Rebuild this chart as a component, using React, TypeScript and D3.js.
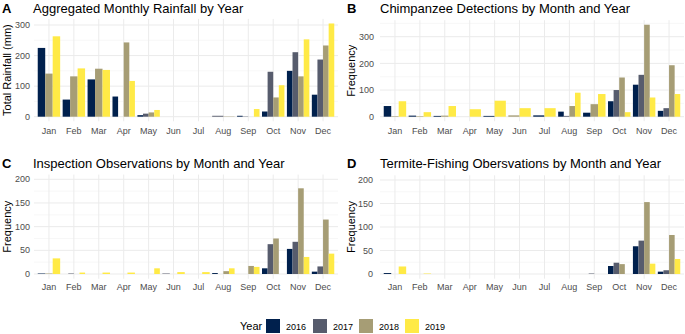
import React from "react";
import * as d3 from "d3";

const months = ["Jan", "Feb", "Mar", "Apr", "May", "Jun", "Jul", "Aug", "Sep", "Oct", "Nov", "Dec"];
const years = ["2016", "2017", "2018", "2019"];
const yearColors = ["#00204D", "#575C6D", "#A69D75", "#FFEA46"];

type V = number | null;

// Panel A: rainfall (mm)
const rain2016: V[] = [225, 56, 122, 66, 5, null, null, null, 3, 17, 150, 72];
const rain2017: V[] = [null, null, null, 0, 10, null, null, 3, 1, 147, 211, 187];
const rain2018: V[] = [141, 132, 157, 243, 14, null, null, 1, 0, 63, 132, 233];
const rain2019: V[] = [263, 158, 153, 117, 22, null, null, null, 25, 103, 253, 305];

// Panel B: chimpanzee detections
const chimp2016: V[] = [40, 4, 3, null, 3, null, 5, 19, 15, 58, 120, 22];
const chimp2017: V[] = [null, null, null, null, null, null, null, 3, null, 100, 157, 32];
const chimp2018: V[] = [2, 2, 4, 0, null, 5, null, 40, 47, 147, 345, 193];
const chimp2019: V[] = [58, 17, 40, 28, 60, 32, 32, 90, 85, 17, 72, 85];

// Panel C: inspection observations
const insp2016: V[] = [1, 0, 0, 0, 0, null, 0, 2, 0, 12, 53, 5];
const insp2017: V[] = [null, 1, null, null, 0, 1, null, 0, 0, 63, 68, 16];
const insp2018: V[] = [1, 0, 0, 0, 0, 0, 0, 6, 17, 75, 181, 115];
const insp2019: V[] = [33, 3, 3, 3, 12, 4, 4, 12, 15, 0, 36, 43];

// Panel D: termite-fishing observations
const term2016: V[] = [2, 0, null, null, null, null, null, null, 0, 17, 59, 5];
const term2017: V[] = [null, null, null, null, null, null, null, null, 1, 24, 71, 8];
const term2018: V[] = [0, 0, null, null, null, null, null, null, 0, 21, 153, 83];
const term2019: V[] = [16, 1, null, null, null, null, null, null, 0, 0, 22, 32];

const yTicksA = [0, 100, 200, 300];
const yTicksB = [0, 100, 200, 300];
const yTicksCD = [0, 50, 100, 150, 200];

const FONT = "Liberation Sans, Arial, sans-serif";

type PanelProps = {
  letter: string;
  title: string;
  yTitle: string;
  series: V[][];
  ticks: number[];
  xRange: [number, number];
  yDomainMax: number;
  yZero: number;
  yTopTick: number;
  extent: [number, number];
  titleY: number;
  labelX: number;
  titleX: number;
  yTitleX: number;
  tickLabelX: number;
  xLabelY: number;
};

function Panel(p: PanelProps) {
  const x = d3.scalePoint<string>().domain(months).range(p.xRange).padding(0.6);
  const step = x.step();
  const y = d3.scaleLinear().domain([0, p.yDomainMax]).range([p.yZero, p.yTopTick]);
  const top = y(p.extent[1]);
  const bottom = y(p.extent[0]);
  const left = p.xRange[0];
  const right = p.xRange[1];
  const minor: number[] = [];
  for (let i = 0; i < p.ticks.length - 1; i++) minor.push((p.ticks[i] + p.ticks[i + 1]) / 2);
  const lastStep = p.ticks[1] - p.ticks[0];
  const extra = p.ticks[p.ticks.length - 1] + lastStep / 2;
  if (extra <= p.extent[1]) minor.push(extra);
  const groupW = step * 0.9;

  const bars: JSX.Element[] = [];
  months.forEach((m, mi) => {
    const present = years
      .map((yr, yi) => ({ yi, v: p.series[yi][mi] }))
      .filter((d) => d.v !== null) as { yi: number; v: number }[];
    const n = present.length;
    if (!n) return;
    const w = groupW / n;
    const x0 = (x(m) as number) - groupW / 2;
    present.forEach((d, i) => {
      const yv = y(d.v);
      bars.push(
        <rect
          key={m + d.yi}
          x={x0 + i * w}
          y={Math.min(yv, y(0))}
          width={w}
          height={Math.abs(y(0) - yv)}
          fill={yearColors[d.yi]}
        />
      );
    });
  });

  const ymid = (top + bottom) / 2;
  return (
    <g fontFamily={FONT}>
      {minor.map((t) => (
        <line key={"mn" + t} x1={left} x2={right} y1={y(t)} y2={y(t)} stroke="#F2F2F2" strokeWidth={0.6} />
      ))}
      {p.ticks.map((t) => (
        <line key={"mj" + t} x1={left} x2={right} y1={y(t)} y2={y(t)} stroke="#EBEBEB" strokeWidth={1} />
      ))}
      {months.map((m) => (
        <line key={"v" + m} x1={x(m)} x2={x(m)} y1={top} y2={bottom} stroke="#EBEBEB" strokeWidth={1} />
      ))}
      {bars}
      {p.ticks.map((t) => (
        <text key={"tl" + t} x={p.tickLabelX} y={y(t)} dy="0.35em" textAnchor="end" fontSize={9} fill="#4D4D4D">
          {t}
        </text>
      ))}
      {months.map((m) => (
        <text key={"xl" + m} x={x(m)} y={p.xLabelY} textAnchor="middle" fontSize={9} fill="#4D4D4D">
          {m}
        </text>
      ))}
      <text
        transform={`translate(${p.yTitleX},${ymid}) rotate(-90)`}
        textAnchor="middle"
        fontSize={11}
        fill="#000"
      >
        {p.yTitle}
      </text>
      <text x={p.labelX} y={p.titleY} fontSize={13} fontWeight="bold" fill="#000">
        {p.letter}
      </text>
      <text x={p.titleX} y={p.titleY} fontSize={13} fill="#000">
        {p.title}
      </text>
    </g>
  );
}

export default function App() {
  const legendX = [266, 313, 359, 405];
  return (
    <svg width={685} height={334} style={{ position: "absolute", left: 0, top: 0, background: "#fff" }}>
      <rect width={685} height={334} fill="#fff" />
      <Panel
        letter="A"
        title="Aggregated Monthly Rainfall by Year"
        yTitle="Total Rainfall (mm)"
        series={[rain2016, rain2017, rain2018, rain2019]}
        ticks={yTicksA}
        xRange={[34, 338]}
        yDomainMax={300}
        yZero={116.7}
        yTopTick={25}
        extent={[-15, 320]}
        titleY={13}
        labelX={2}
        titleX={33}
        yTitleX={11}
        tickLabelX={30}
        xLabelY={134}
      />
      <Panel
        letter="B"
        title="Chimpanzee Detections by Month and Year"
        yTitle="Frequency"
        series={[chimp2016, chimp2017, chimp2018, chimp2019]}
        ticks={yTicksB}
        xRange={[380, 684]}
        yDomainMax={300}
        yZero={116.7}
        yTopTick={36.7}
        extent={[-17, 362]}
        titleY={13}
        labelX={347}
        titleX={380}
        yTitleX={355}
        tickLabelX={374}
        xLabelY={134}
      />
      <Panel
        letter="C"
        title="Inspection Observations by Month and Year"
        yTitle="Frequency"
        series={[insp2016, insp2017, insp2018, insp2019]}
        ticks={yTicksCD}
        xRange={[34, 338]}
        yDomainMax={200}
        yZero={274}
        yTopTick={179.3}
        extent={[-10, 210]}
        titleY={168}
        labelX={2}
        titleX={33}
        yTitleX={11}
        tickLabelX={30}
        xLabelY={290}
      />
      <Panel
        letter="D"
        title="Termite-Fishing Obersvations by Month and Year"
        yTitle="Frequency"
        series={[term2016, term2017, term2018, term2019]}
        ticks={yTicksCD}
        xRange={[380, 684]}
        yDomainMax={200}
        yZero={274}
        yTopTick={180}
        extent={[-10, 210]}
        titleY={168}
        labelX={347}
        titleX={380}
        yTitleX={355}
        tickLabelX={373}
        xLabelY={290}
      />
      <g fontFamily={FONT}>
        <text x={240} y={330} fontSize={11} fill="#000">
          Year
        </text>
        {years.map((yr, i) => (
          <g key={yr}>
            <rect x={legendX[i]} y={319} width={14} height={14} fill={yearColors[i]} />
            <text x={legendX[i] + 20} y={329.5} fontSize={9} fill="#000">
              {yr}
            </text>
          </g>
        ))}
      </g>
    </svg>
  );
}
